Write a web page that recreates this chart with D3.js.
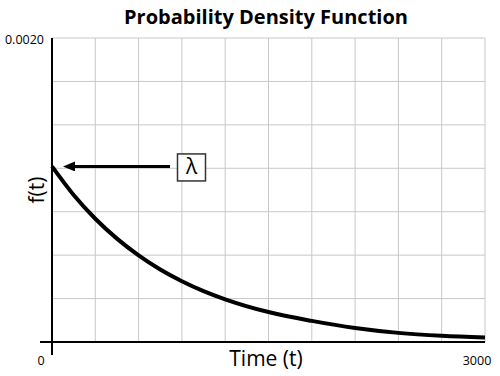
<!DOCTYPE html>
<html>
<head>
<meta charset="utf-8">
<script src="https://cdn.jsdelivr.net/npm/d3@7"></script>
<style>
  html, body { margin: 0; padding: 0; background: #fff; }
  svg { display: block; font-family: "Open Sans", "Noto Sans", sans-serif; }
</style>
</head>
<body>
<div id="chart"></div>
<script>
// curve (t, f(t))
const times = [0, 150, 300, 450, 600, 750, 900, 1050, 1200, 1500, 1800, 2100, 2400, 2700, 3000];
const density = [0.001155, 0.000967, 0.000811, 0.000680, 0.000570, 0.000477, 0.000400, 0.000335,
                 0.000281, 0.000197, 0.000139, 0.000092, 0.000060, 0.000041, 0.000030];
const xTicks = [0, 300, 600, 900, 1200, 1500, 1800, 2100, 2400, 2700, 3000];
const yMax = 0.0020;
const yGridCount = 7;
const xLabels = ['0', '3000'];
const yLabel = '0.0020';

const W = 500, H = 376;
const margin = { top: 38, right: 15, bottom: 34, left: 52 };
const width = W - margin.left - margin.right,
      height = H - margin.top - margin.bottom;

const svg = d3.select('#chart').append('svg')
  .attr('width', W).attr('height', H);

// arrow head
svg.append('defs').append('marker')
  .attr('id', 'arrow')
  .attr('viewBox', '0 0 12 10')
  .attr('refX', 0).attr('refY', 5)
  .attr('markerWidth', 12).attr('markerHeight', 10)
  .attr('markerUnits', 'userSpaceOnUse')
  .attr('orient', 'auto')
  .append('path')
  .attr('d', 'M0,0 L12,5 L0,10 Z')
  .attr('fill', '#000');

const g = svg.append('g').attr('transform', `translate(${margin.left},${margin.top})`);

// scales
const x = d3.scaleLinear().domain([0, 3000]).range([0, width]);
const y = d3.scaleLinear().domain([0, yMax]).range([height, 0]);

// grid
const yGrid = d3.range(1, yGridCount + 1).map(i => yMax * i / yGridCount);
g.append('g')
  .selectAll('line')
  .data(yGrid)
  .join('line')
  .attr('x1', 0).attr('x2', width)
  .attr('y1', d => y(d)).attr('y2', d => y(d))
  .attr('stroke', '#c8c8c8').attr('stroke-width', 1);

g.append('g')
  .selectAll('line')
  .data(xTicks.slice(1))
  .join('line')
  .attr('x1', d => x(d)).attr('x2', d => x(d))
  .attr('y1', 0).attr('y2', height)
  .attr('stroke', '#c8c8c8').attr('stroke-width', 1);

// axes (cross each other at the origin)
g.append('line')
  .attr('x1', -12).attr('x2', width)
  .attr('y1', height).attr('y2', height)
  .attr('stroke', '#000').attr('stroke-width', 2);
g.append('line')
  .attr('x1', 0).attr('x2', 0)
  .attr('y1', 0).attr('y2', height + 13)
  .attr('stroke', '#000').attr('stroke-width', 2);

// curve
const pts = times.map((t, i) => [t, density[i]]);
g.append('path')
  .datum(pts)
  .attr('fill', 'none')
  .attr('stroke', '#000')
  .attr('stroke-width', 4)
  .attr('d', d3.line().x(d => x(d[0])).y(d => y(d[1])).curve(d3.curveMonotoneX));

// lambda annotation
const lamY = y(density[0]);
g.append('line')
  .attr('x1', 118).attr('x2', 23)
  .attr('y1', lamY).attr('y2', lamY)
  .attr('stroke', '#000').attr('stroke-width', 3)
  .attr('marker-end', 'url(#arrow)');
g.append('rect')
  .attr('x', 125.5).attr('y', lamY - 12.5)
  .attr('width', 28).attr('height', 27)
  .attr('fill', '#fff')
  .attr('stroke', '#333').attr('stroke-width', 1.5);
g.append('text')
  .attr('x', 139.5).attr('y', lamY + 8)
  .attr('text-anchor', 'middle')
  .style('font-size', '21px')
  .text('λ');

// tick labels
svg.append('text')
  .attr('x', 44).attr('y', 44)
  .attr('text-anchor', 'end')
  .style('font-size', '12.5px')
  .text(yLabel);
svg.append('text')
  .attr('x', 41).attr('y', 365)
  .attr('text-anchor', 'middle')
  .style('font-size', '12.5px')
  .text(xLabels[0]);
svg.append('text')
  .attr('x', 477).attr('y', 365)
  .attr('text-anchor', 'middle')
  .style('font-size', '12.5px')
  .text(xLabels[1]);

// axis titles
svg.append('text')
  .attr('x', 266).attr('y', 366)
  .attr('text-anchor', 'middle')
  .style('font-size', '21px')
  .text('Time (t)');
svg.append('text')
  .attr('transform', 'translate(44,190) rotate(-90)')
  .attr('text-anchor', 'middle')
  .style('font-size', '21px')
  .text('f(t)');

// title
svg.append('text')
  .attr('x', 266).attr('y', 24)
  .attr('text-anchor', 'middle')
  .style('font-size', '20px')
  .style('font-weight', 'bold')
  .text('Probability Density Function');
</script>
</body>
</html>
